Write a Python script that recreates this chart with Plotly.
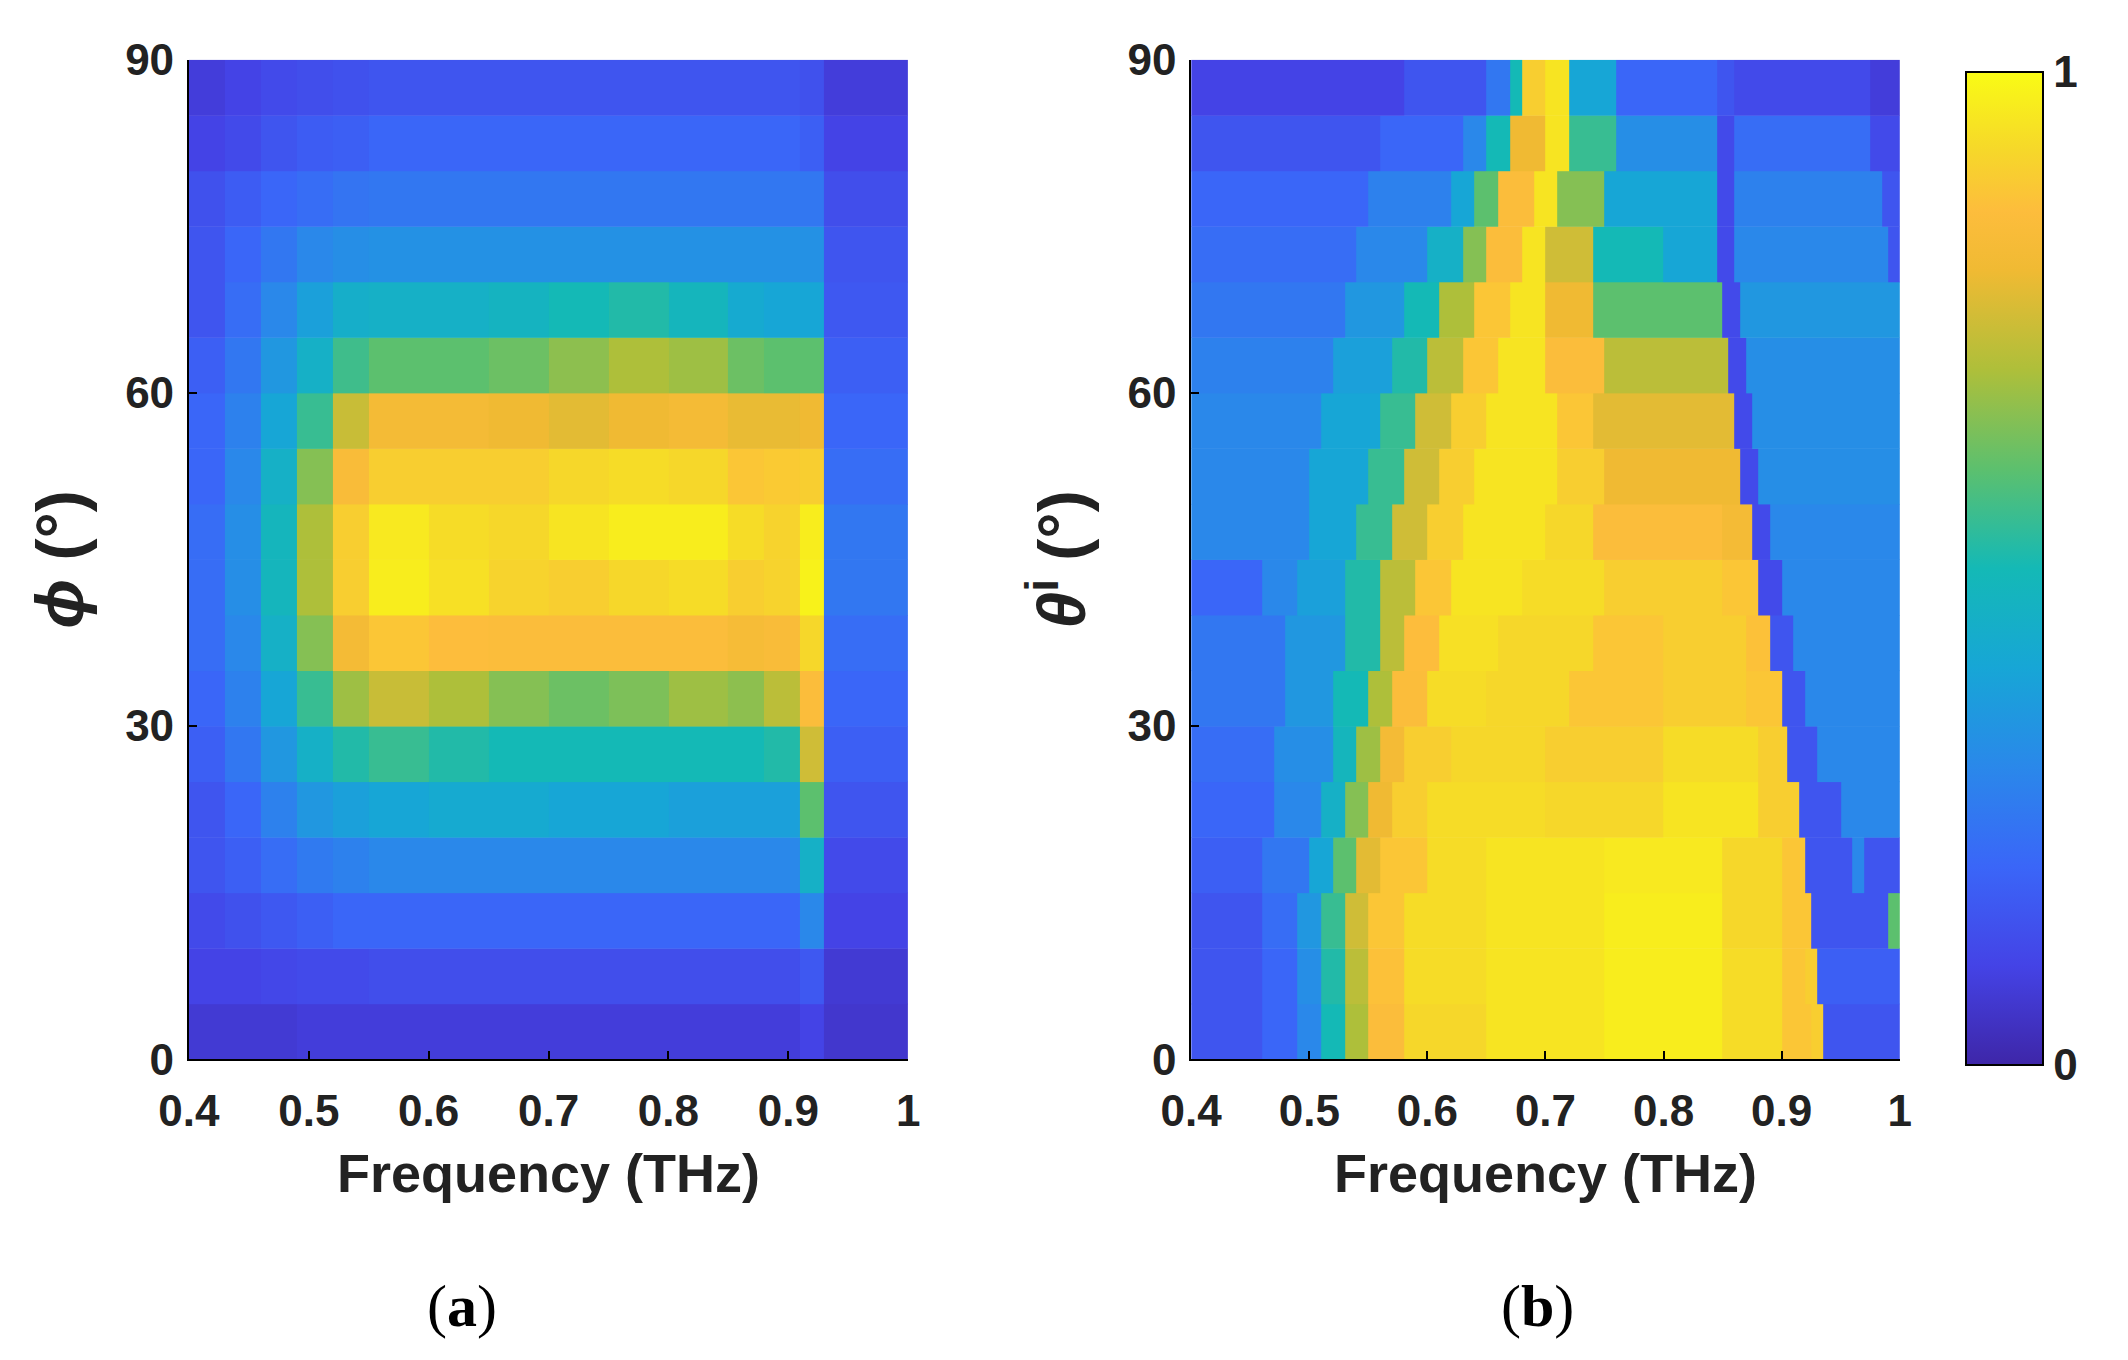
import plotly.graph_objects as go

# ---------- data ----------
row_lo = [0,5,10,15,20,25,30,35,40,45,50,55,60,65,70,75,80,85]

# panel (a): shared frequency edges, one value list per 5-degree band (bottom to top)
a_edges = [.4,.43,.46,.49,.52,.55,.6,.65,.7,.75,.8,.85,.88,.91,.93,1]
a_vals = [
 [.07,.07,.07,.08,.08,.08,.08,.08,.08,.08,.08,.08,.08,.1,.06],
 [.1,.1,.11,.12,.12,.13,.13,.13,.13,.13,.13,.13,.13,.16,.07],
 [.12,.14,.16,.18,.2,.2,.2,.2,.2,.2,.2,.2,.2,.3,.1],
 [.15,.18,.22,.26,.28,.3,.3,.3,.3,.3,.3,.3,.3,.45,.12],
 [.15,.2,.28,.35,.38,.4,.42,.42,.4,.4,.38,.38,.38,.6,.15],
 [.18,.25,.35,.45,.52,.55,.52,.5,.5,.5,.5,.5,.52,.75,.18],
 [.2,.28,.4,.55,.68,.74,.7,.65,.62,.64,.68,.66,.72,.85,.2],
 [.22,.3,.45,.65,.82,.88,.86,.85,.85,.85,.85,.83,.84,.92,.22],
 [.22,.32,.48,.7,.9,.97,.94,.91,.9,.92,.93,.9,.91,.98,.25],
 [.22,.32,.48,.7,.9,.96,.93,.92,.95,.97,.97,.93,.91,.97,.25],
 [.2,.3,.45,.65,.84,.9,.9,.9,.92,.93,.92,.88,.89,.9,.22],
 [.2,.28,.4,.55,.74,.82,.82,.8,.78,.8,.82,.79,.79,.8,.2],
 [.18,.25,.35,.45,.56,.6,.6,.62,.66,.7,.68,.62,.6,.6,.18],
 [.15,.22,.3,.38,.44,.45,.45,.47,.5,.52,.48,.42,.4,.4,.16],
 [.15,.2,.25,.3,.32,.33,.33,.33,.33,.33,.33,.33,.33,.33,.15],
 [.14,.17,.2,.22,.24,.25,.25,.25,.25,.25,.25,.25,.25,.25,.13],
 [.1,.12,.15,.17,.18,.2,.2,.2,.2,.2,.2,.2,.2,.18,.1],
 [.08,.1,.12,.13,.14,.15,.15,.15,.15,.15,.15,.15,.15,.14,.08],
]

# panel (b): per-band frequency edges and values (bottom to top)
b_edges = [
 [.4,.46,.49,.51,.53,.55,.58,.65,.75,.85,.9,.925,.935,1],
 [.4,.46,.49,.51,.53,.55,.58,.65,.75,.85,.9,.92,.93,1],
 [.4,.46,.49,.51,.53,.55,.58,.65,.75,.85,.9,.925,.99,1],
 [.4,.46,.5,.52,.54,.56,.6,.65,.75,.85,.9,.92,.96,.97,1],
 [.4,.47,.51,.53,.55,.57,.6,.7,.8,.88,.915,.95,1],
 [.4,.47,.52,.54,.56,.58,.62,.7,.8,.88,.905,.93,1],
 [.4,.48,.52,.55,.57,.6,.65,.72,.8,.87,.9,.92,1],
 [.4,.48,.53,.56,.58,.61,.66,.74,.8,.87,.89,.91,1],
 [.4,.46,.49,.53,.56,.59,.62,.68,.75,.85,.88,.9,1],
 [.4,.5,.54,.57,.6,.63,.7,.74,.85,.875,.89,1],
 [.4,.5,.55,.58,.61,.64,.71,.75,.865,.88,1],
 [.4,.51,.56,.59,.62,.65,.71,.74,.86,.875,1],
 [.4,.52,.57,.6,.63,.66,.7,.75,.855,.87,1],
 [.4,.53,.58,.61,.64,.67,.7,.74,.85,.865,1],
 [.4,.54,.6,.63,.65,.68,.7,.74,.8,.845,.86,.99,1],
 [.4,.55,.62,.64,.66,.69,.71,.75,.845,.86,.985,1],
 [.4,.56,.63,.65,.67,.7,.72,.76,.845,.86,.975,1],
 [.4,.58,.65,.67,.68,.7,.72,.76,.845,.86,.975,1],
]
b_vals = [
 [.15,.2,.3,.5,.7,.85,.92,.95,.97,.93,.88,.9,.15],
 [.15,.2,.32,.52,.72,.87,.93,.95,.97,.93,.88,.9,.18],
 [.15,.22,.35,.55,.75,.88,.93,.95,.97,.92,.88,.15,.6],
 [.18,.25,.4,.6,.78,.88,.93,.95,.96,.92,.88,.15,.3,.15],
 [.2,.3,.45,.65,.8,.9,.93,.92,.95,.9,.15,.3],
 [.22,.32,.48,.68,.82,.9,.92,.9,.93,.9,.15,.3],
 [.25,.35,.5,.7,.85,.93,.92,.88,.9,.88,.15,.3],
 [.25,.35,.52,.72,.86,.94,.92,.88,.9,.87,.15,.3],
 [.2,.3,.38,.52,.72,.88,.95,.93,.9,.88,.12,.3],
 [.3,.4,.55,.75,.9,.95,.92,.85,.82,.12,.3],
 [.3,.4,.55,.75,.9,.95,.9,.8,.12,.32],
 [.3,.4,.55,.75,.9,.95,.88,.78,.12,.32],
 [.28,.38,.52,.72,.88,.95,.85,.72,.12,.32],
 [.25,.35,.5,.7,.88,.95,.8,.6,.12,.35],
 [.22,.3,.45,.65,.85,.95,.75,.5,.4,.12,.3,.15],
 [.2,.28,.4,.6,.85,.95,.65,.4,.12,.28,.15],
 [.15,.2,.3,.5,.8,.95,.55,.32,.12,.22,.12],
 [.1,.15,.25,.5,.9,.95,.4,.2,.15,.12,.08],
]

x_ticks = [0.4,0.5,0.6,0.7,0.8,0.9,1]
x_ticktext = ["0.4","0.5","0.6","0.7","0.8","0.9","1"]
y_ticks = [0,30,60,90]

parula = [[0,'#3e26a8'],[0.1,'#4443e6'],[0.2,'#3a66f8'],[0.3,'#2a88ea'],
          [0.4,'#17a6d6'],[0.5,'#14b9b6'],[0.6,'#5cc06e'],[0.7,'#aebf3a'],
          [0.8,'#f0ba33'],[0.86,'#fdbd3c'],[0.92,'#f6d72a'],[1,'#f9fb15']]

tf = dict(family='Liberation Sans', size=44, color='#222', weight='bold')

fig = go.Figure()
for i, lo in enumerate(row_lo):
    fig.add_trace(go.Heatmap(x=a_edges, y=[lo, lo+5], z=[a_vals[i]], xaxis='x', yaxis='y',
                             colorscale=parula, zmin=0, zmax=1, showscale=False, hoverinfo='skip'))
for i, lo in enumerate(row_lo):
    fig.add_trace(go.Heatmap(x=b_edges[i], y=[lo, lo+5], z=[b_vals[i]], xaxis='x2', yaxis='y2',
                             colorscale=parula, zmin=0, zmax=1, hoverinfo='skip',
                             showscale=(i == 0),
                             colorbar=dict(x=0.920, xanchor='left', y=0.588, yanchor='middle',
                                           len=0.73, lenmode='fraction', thickness=77, ypad=0, xpad=0,
                                           outlinecolor='black', outlinewidth=2,
                                           tickvals=[0,1], ticktext=['0','1'], ticks='',
                                           tickfont=tf)))

axcommon = dict(showline=True, linecolor='black', linewidth=2, ticks='inside', ticklen=8,
                tickcolor='black', tickwidth=2, showgrid=False, zeroline=False, tickfont=tf,
                automargin=False)
titlefont = dict(family='Liberation Sans', size=54, color='#222', weight='bold')
ytitlefont = dict(family='Liberation Sans', size=66, color='#222', weight='bold')
fig.update_layout(
    width=2128, height=1360, margin=dict(l=0, r=0, t=0, b=0),
    paper_bgcolor='white', plot_bgcolor='white',
    xaxis=dict(domain=[0.085, 0.423], range=[0.4, 1], tickvals=x_ticks, ticktext=x_ticktext,
               title=dict(text='Frequency (THz)', font=titlefont, standoff=20),
               anchor='y', ticklabelstandoff=12, **axcommon),
    yaxis=dict(domain=[0.227, 0.962], range=[0, 90], tickvals=y_ticks,
               title=dict(text='<i>ϕ</i> (°)', font=ytitlefont, standoff=20),
               anchor='x', ticklabelstandoff=4, **axcommon),
    xaxis2=dict(domain=[0.556, 0.889], range=[0.4, 1], tickvals=x_ticks, ticktext=x_ticktext,
                title=dict(text='Frequency (THz)', font=titlefont, standoff=20),
                anchor='y2', ticklabelstandoff=12, **axcommon),
    yaxis2=dict(domain=[0.227, 0.962], range=[0, 90], tickvals=y_ticks,
                title=dict(text='<i>θ</i><sup>i</sup> (°)', font=ytitlefont, standoff=20),
                anchor='x2', ticklabelstandoff=4, **axcommon),
    annotations=[
        dict(text='(<b>a</b>)', x=0.196, y=0.02, xref='paper', yref='paper', showarrow=False,
             font=dict(family='Liberation Serif', size=60, color='black')),
        dict(text='(<b>b</b>)', x=0.737, y=0.02, xref='paper', yref='paper', showarrow=False,
             font=dict(family='Liberation Serif', size=60, color='black')),
    ],
)
fig.write_html("out.html")
